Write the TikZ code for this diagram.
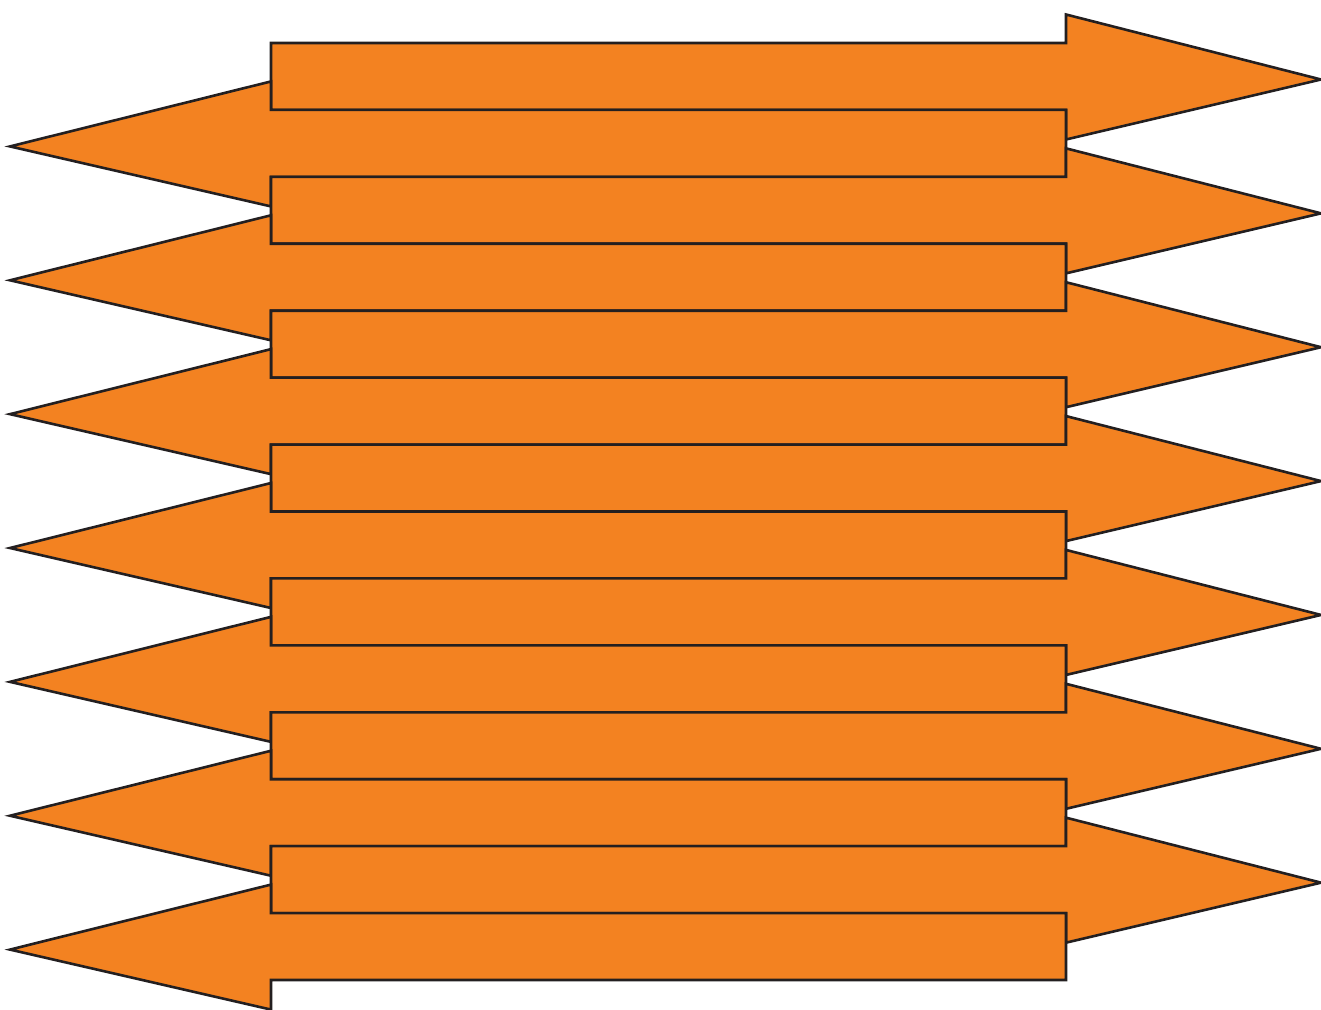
\documentclass[tikz,border=0pt]{standalone}
\usepackage{tikz}

\definecolor{bandorange}{HTML}{F38221}
\definecolor{bandline}{HTML}{231F20}

\begin{document}
\begin{tikzpicture}[x=0.5pt, y=-0.5pt,
    band/.style={fill=bandorange, draw=bandline, line width=1.3pt, line join=miter}]
      \useasboundingbox (0,0) rectangle (1321,1010);
      % alternating bands, right then left
      \foreach \k in {0,...,6} {
          \pgfmathsetmacro{\t}{43+2*\k*66.93}
          \pgfmathsetmacro{\s}{\t+66.93}
          % arrow to the right
          \filldraw[band] (271,\t) -- (1066,\t) -- (1066,\t-28.5) -- (1321,\t+36.5)
            -- (1066,\t+96.5) -- (1066,\s) -- (271,\s) -- cycle;
          % arrow to the left
          \filldraw[band] (1066,\s) -- (271,\s) -- (271,\s-28.5) -- (10,\s+36.5)
            -- (271,\s+96.5) -- (271,\s+66.93) -- (1066,\s+66.93) -- cycle;
        }
    \end{tikzpicture}
\end{document}
